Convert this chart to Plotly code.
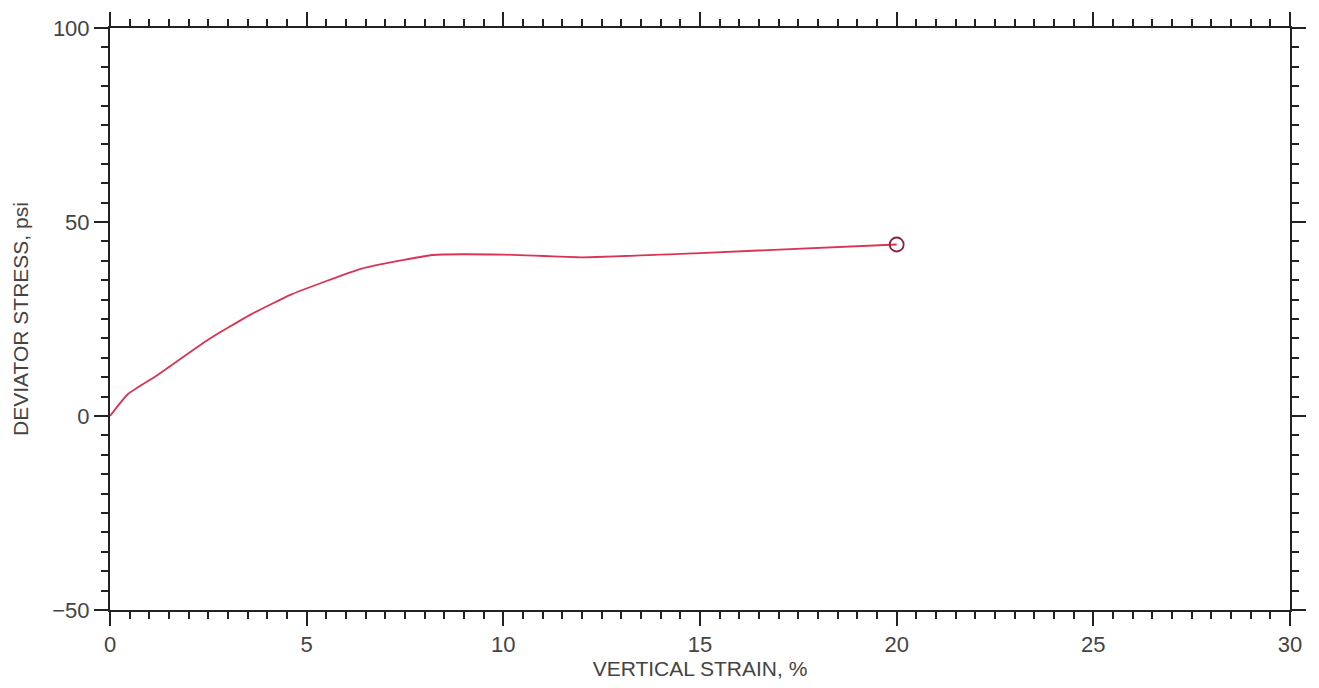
import plotly.graph_objects as go

strain = [0.0, 0.45, 1.2, 2.5, 3.55, 4.6, 6.4, 8.2, 10.0, 12.0, 15.0, 20.0]
stress = [0.0, 5.6, 10.5, 19.7, 26.0, 31.3, 38.0, 41.5, 41.6, 40.9, 42.0, 44.2]
end_x = [20.0]
end_y = [44.2]

x_ticks = [0, 5, 10, 15, 20, 25, 30]
y_ticks = [-50, 0, 50, 100]

fig = go.Figure()
fig.add_trace(go.Scatter(x=strain, y=stress, mode="lines",
                         line=dict(color="#d93355", width=1.8, shape="spline", smoothing=0.4),
                         showlegend=False))
fig.add_trace(go.Scatter(x=end_x, y=end_y, mode="markers",
                         marker=dict(symbol="circle-open", size=14, color="#8a2340", line=dict(width=1.8)),
                         showlegend=False))

FONT = "Liberation Sans, Arial, sans-serif"
axfont = dict(family=FONT, size=22, color="#444")
titlefont = dict(family=FONT, size=21, color="#444")
fig.update_xaxes(range=[0, 30], tickvals=x_ticks, ticks="outside", ticklen=14, tickwidth=1.8,
                 tickcolor="#222", showline=True, linecolor="#222", linewidth=2, mirror="ticks",
                 showgrid=False, zeroline=False, tickfont=axfont,
                 minor=dict(dtick=0.5, tick0=0, ticks="outside", ticklen=7, tickwidth=1.5, tickcolor="#222",
                            showgrid=False),
                 title=dict(text="VERTICAL STRAIN, %", font=titlefont, standoff=4))
fig.update_yaxes(range=[-50, 100], tickvals=y_ticks, ticks="outside", ticklen=14, tickwidth=1.8,
                 tickcolor="#222", showline=True, linecolor="#222", linewidth=2, mirror="ticks",
                 showgrid=False, zeroline=False, tickfont=axfont,
                 minor=dict(dtick=5, tick0=0, ticks="outside", ticklen=7, tickwidth=1.5, tickcolor="#222",
                            showgrid=False),
                 title=dict(text="DEVIATOR STRESS, psi", font=titlefont, standoff=18))
fig.update_layout(width=1319, height=688, margin=dict(l=110, r=29, t=25, b=78),
                  plot_bgcolor="white", paper_bgcolor="white")
fig.write_html("out.html")
